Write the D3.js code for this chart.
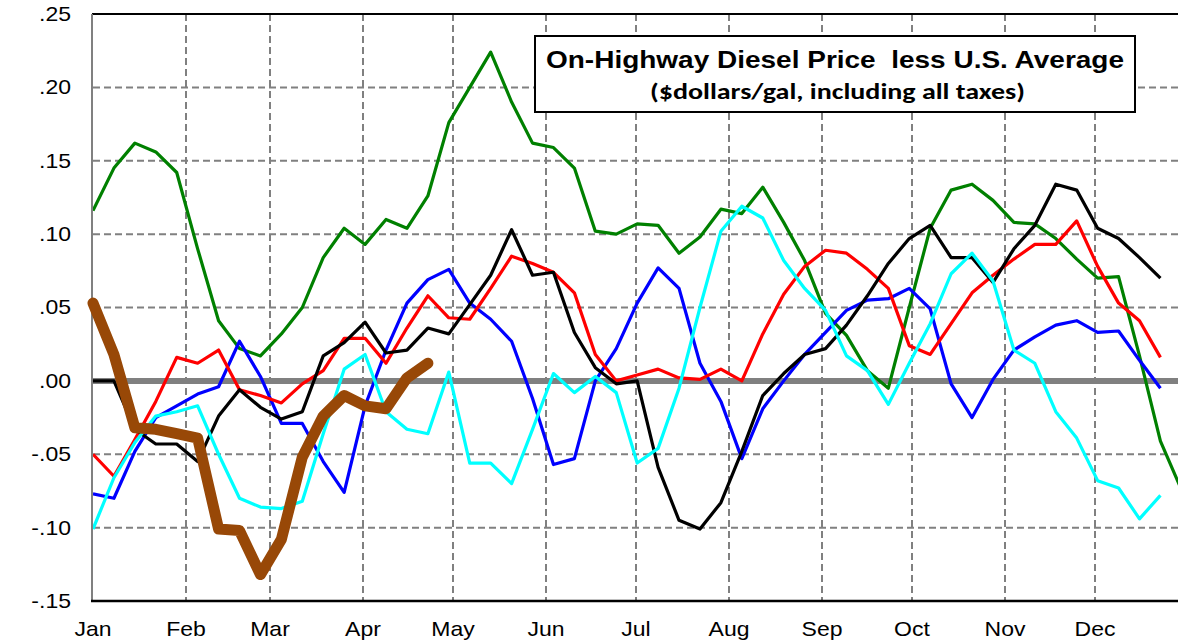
<!DOCTYPE html>
<html>
<head>
<meta charset="utf-8">
<script src="https://cdn.jsdelivr.net/npm/d3@7"></script>
<style>
  html, body { margin: 0; padding: 0; background: #fff; }
  svg { display: block; }
</style>
</head>
<body>
<svg id="chart" width="1178" height="640"></svg>
<script>
// Weekly regional on-highway diesel price minus U.S. average ($/gal)
const monthLabels = ["Jan","Feb","Mar","Apr","May","Jun","Jul","Aug","Sep","Oct","Nov","Dec"];
const monthStartDays = [0,31,59,90,120,151,181,212,243,273,304,334];
const yTicks = [0.25,0.20,0.15,0.10,0.05,0.00,-0.05,-0.10,-0.15];
const yTickLabels = [".25",".20",".15",".10",".05",".00","-.05","-.10","-.15"];

const seriesGreen = [.116,.145,.162,.156,.142,.090,.041,.022,.017,.032,.050,.084,.104,.093,.110,.104,.126,.176,.200,.224,.190,.162,.159,.145,.102,.100,.107,.106,.087,.098,.117,.114,.132,.108,.082,.046,.031,.007,-.005,.050,.104,.130,.134,.123,.108,.107,.097,.083,.070,.071,.017,-.041,-.074];
const seriesBlack = [0,0,-.033,-.043,-.043,-.055,-.024,-.006,-.018,-.026,-.021,.017,.026,.040,.019,.021,.036,.032,.052,.072,.103,.072,.074,.033,.009,-.002,0,-.059,-.095,-.101,-.083,-.048,-.010,.005,.018,.022,.038,.058,.080,.097,.106,.084,.084,.067,.090,.106,.134,.130,.104,.097,.084,.070];
const seriesRed = [-.050,-.065,-.040,-.014,.016,.012,.021,-.006,-.010,-.015,-.002,.007,.029,.029,.012,.036,.058,.043,.042,.063,.085,.080,.074,.060,.018,0,.004,.008,.002,.001,.008,0,.032,.059,.078,.089,.087,.076,.063,.024,.018,.039,.060,.072,.083,.093,.093,.109,.078,.053,.041,.016];
const seriesBlue = [-.077,-.080,-.048,-.025,-.017,-.009,-.004,.027,.003,-.029,-.029,-.055,-.076,-.017,.021,.053,.069,.076,.053,.042,.027,-.012,-.057,-.053,0,.022,.053,.077,.063,.012,-.014,-.053,-.019,0,.018,.033,.048,.055,.056,.063,.049,-.002,-.025,.001,.021,.030,.038,.041,.033,.034,.014,-.005];
const seriesCyan = [-.101,-.066,-.042,-.024,-.021,-.017,-.050,-.080,-.086,-.087,-.082,-.036,.008,.018,-.021,-.033,-.036,.006,-.056,-.056,-.070,-.033,.005,-.008,.003,-.008,-.056,-.046,-.005,.050,.102,.119,.111,.082,.063,.048,.017,.007,-.016,.012,.039,.073,.087,.068,.021,.012,-.021,-.039,-.068,-.073,-.094,-.078];
const seriesCurrent = [.053,.018,-.032,-.033,-.036,-.039,-.101,-.102,-.132,-.108,-.052,-.024,-.010,-.017,-.019,.002,.012];

const titleLine1 = "On-Highway Diesel Price  less U.S. Average";
const titleLine2 = "($dollars/gal, including all taxes)";

const svg = d3.select("#chart");
const W = 1178, H = 640;
const plot = { left: 93, top: 14, bottom: 601, right: 1188 };
const stretchX = 1.15;   // labels are set slightly wide
const labelFont = "Liberation Sans, Arial, sans-serif";

const y = d3.scaleLinear().domain([-0.15, 0.25]).range([plot.bottom, plot.top]);
const xDay = d3.scaleLinear().domain([0, 365]).range([plot.left, plot.right]);
const xWeek = d3.scaleLinear().domain([0, 52]).range([plot.left, plot.left + 52 * 20.93]);

const grid = svg.append("g");
// horizontal dashed gridlines
grid.selectAll("line.h")
  .data(yTicks.filter(v => v !== 0 && v !== 0.25 && v !== -0.15))
  .join("line")
  .attr("x1", plot.left).attr("x2", W)
  .attr("y1", d => y(d)).attr("y2", d => y(d))
  .attr("stroke", "#808080").attr("stroke-width", 2)
  .attr("stroke-dasharray", "7,4");
// vertical dashed gridlines at month starts
grid.selectAll("line.v")
  .data(monthStartDays.slice(1))
  .join("line")
  .attr("x1", d => xDay(d)).attr("x2", d => xDay(d))
  .attr("y1", plot.top).attr("y2", plot.bottom)
  .attr("stroke", "#808080").attr("stroke-width", 2)
  .attr("stroke-dasharray", "7,4");

// zero reference line
svg.append("line")
  .attr("x1", plot.left).attr("x2", W)
  .attr("y1", y(0)).attr("y2", y(0))
  .attr("stroke", "#808080").attr("stroke-width", 6);

// frame
svg.append("line").attr("x1", plot.left - 1).attr("x2", W).attr("y1", plot.top).attr("y2", plot.top)
  .attr("stroke", "#000").attr("stroke-width", 2);
svg.append("line").attr("x1", plot.left - 1).attr("x2", plot.left - 1).attr("y1", plot.top).attr("y2", plot.bottom)
  .attr("stroke", "#808080").attr("stroke-width", 2);
svg.append("line").attr("x1", plot.left - 2).attr("x2", W).attr("y1", plot.bottom).attr("y2", plot.bottom)
  .attr("stroke", "#000").attr("stroke-width", 2.5);

// value axis labels
const yAxis = d3.axisLeft(y).tickValues(yTicks).tickSize(0).tickPadding(0)
  .tickFormat((d, i) => yTickLabels[i]);
const gy = svg.append("g").attr("transform", `translate(${plot.left - 22},0)`).call(yAxis);
gy.select(".domain").remove();
gy.selectAll("text")
  .attr("font-family", labelFont)
  .attr("font-size", 20).attr("fill", "#000")
  .attr("transform", `scale(${stretchX},1)`);

// month labels
svg.append("g").selectAll("g")
  .data(monthLabels)
  .join("g")
  .attr("transform", (d, i) => `translate(${xDay(monthStartDays[i])},636) scale(${stretchX},1)`)
  .append("text")
  .attr("text-anchor", "middle")
  .attr("font-family", labelFont)
  .attr("font-size", 20)
  .attr("fill", "#000")
  .text(d => d);

// data lines
svg.append("defs").append("clipPath").attr("id", "plotClip")
  .append("rect").attr("x", plot.left).attr("y", 0).attr("width", W - plot.left).attr("height", H);

const line = d3.line().x((d, i) => xWeek(i)).y(d => y(d));
const series = [
  { values: seriesGreen, color: "#008000", width: 3.2 },
  { values: seriesBlue, color: "#0000FF", width: 3.2 },
  { values: seriesRed, color: "#FF0000", width: 3.2 },
  { values: seriesBlack, color: "#000000", width: 3.2 },
  { values: seriesCyan, color: "#00FFFF", width: 3.2 },
];
const lines = svg.append("g").attr("clip-path", "url(#plotClip)");
lines.selectAll("path.s")
  .data(series)
  .join("path")
  .attr("d", d => line(d.values))
  .attr("fill", "none")
  .attr("stroke", d => d.color)
  .attr("stroke-width", d => d.width)
  .attr("stroke-linejoin", "round");

svg.append("path")
  .attr("d", line(seriesCurrent))
  .attr("fill", "none")
  .attr("stroke", "#984807")
  .attr("stroke-width", 11)
  .attr("stroke-linejoin", "round")
  .attr("stroke-linecap", "round");

// title box
const tb = svg.append("g");
tb.append("rect").attr("x", 535).attr("y", 36).attr("width", 600).attr("height", 76)
  .attr("fill", "#fff").attr("stroke", "#000").attr("stroke-width", 2);
tb.append("text").attr("x", 546).attr("y", 68)
  .attr("font-family", labelFont).attr("font-weight", "bold")
  .attr("font-size", 24).style("white-space", "pre")
  .attr("textLength", 578).attr("lengthAdjust", "spacingAndGlyphs")
  .text(titleLine1);
tb.append("text").attr("x", 650).attr("y", 99)
  .attr("font-family", "Carlito, Lato, 'Open Sans', sans-serif").attr("font-weight", "bold")
  .attr("font-size", 23)
  .attr("textLength", 375).attr("lengthAdjust", "spacingAndGlyphs")
  .text(titleLine2);
</script>
</body>
</html>
